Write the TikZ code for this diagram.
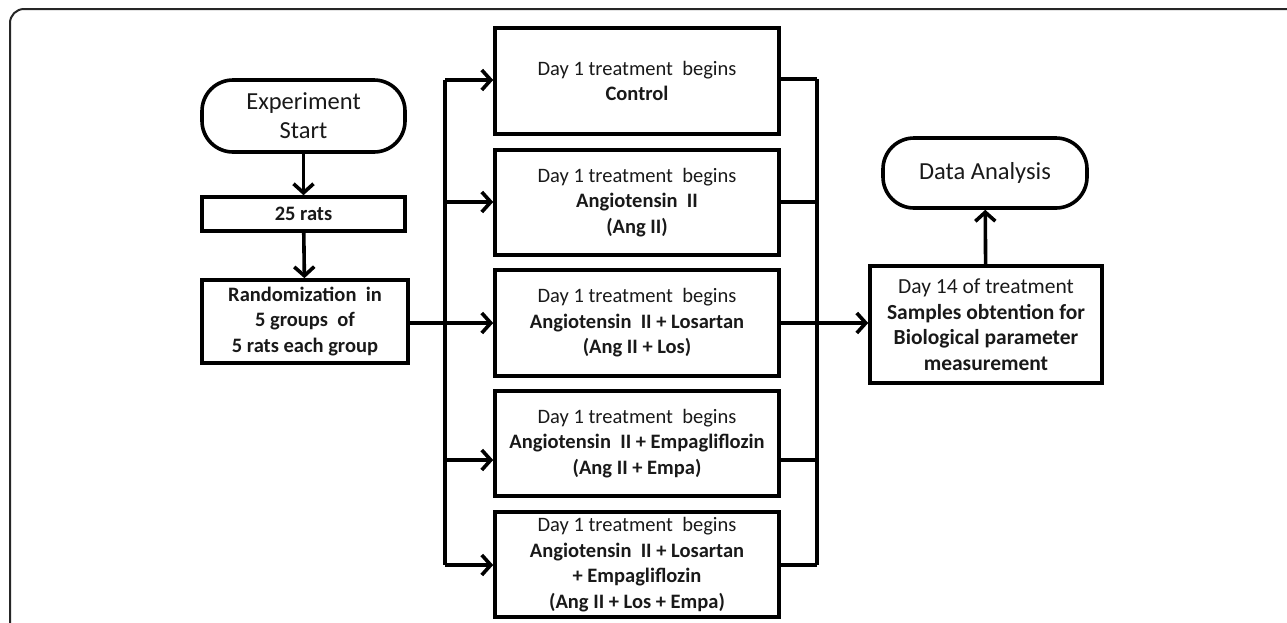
\documentclass[tikz,border=0pt]{standalone}
\usepackage{fontspec}
\setmainfont{Carlito}
\usetikzlibrary{arrows.meta}
\begin{document}
\begin{tikzpicture}[x=1pt,y=-1pt,
  box/.style={draw,line width=3.6pt,align=center,inner sep=0pt,text=black!90,font=\fontsize{20.5}{25.5}\selectfont},
  term/.style={box,rounded corners=31pt,font=\fontsize{24.5}{29}\selectfont},
  ln/.style={line width=3.6pt},
  arr/.style={ln,-{Straight Barb[length=9pt,width=20pt]}}]
\useasboundingbox (0,0) rectangle (1287,622);
\draw[line width=2pt,black!85,rounded corners=14pt] (10,623) -- (10,9) -- (1288,9);
% left column
\node[term,minimum width=203pt,minimum height=72pt] (start) at (303.5,116) {Experiment\\Start};
\node[box,minimum width=203pt,minimum height=34pt] (rats) at (303.5,214) {\textbf{25 rats}};
\node[box,minimum width=206pt,minimum height=83pt] (rand) at (305,321.5) {\textbf{Randomization\ \ in}\\\textbf{5 groups\ \ of}\\\textbf{5 rats each group}};
% treatment boxes
\node[box,minimum width=284pt,minimum height=106pt] (ctl) at (637,81) {Day 1 treatment\ \ begins\\\textbf{Control}};
\node[box,minimum width=284pt,minimum height=105pt] (ang) at (637,202.5) {Day 1 treatment\ \ begins\\\textbf{Angiotensin\ \ II}\\\textbf{(Ang II)}};
\node[box,minimum width=284pt,minimum height=106pt] (los) at (637,323) {Day 1 treatment\ \ begins\\\textbf{Angiotensin\ \ II + Losartan}\\\textbf{(Ang II + Los)}};
\node[box,minimum width=284pt,minimum height=105pt] (emp) at (637,443.5) {Day 1 treatment\ \ begins\\\textbf{Angiotensin\ \ II + Empagliflozin}\\\textbf{(Ang II + Empa)}};
\node[box,minimum width=284pt,minimum height=105pt] (lem) at (637,564.5) {Day 1 treatment\ \ begins\\\textbf{Angiotensin\ \ II + Losartan}\\\textbf{+ Empagliflozin}\\\textbf{(Ang II + Los + Empa)}};
% right column
\node[box,minimum width=232pt,minimum height=117pt,font=\fontsize{21.5}{25.5}\selectfont] (d14) at (986,324.5) {Day 14 of treatment\\\textbf{Samples obtention for}\\\textbf{Biological parameter}\\\textbf{measurement}};
\node[term,minimum width=204pt,minimum height=70pt] (data) at (985,173) {Data Analysis};
% trunks
\coordinate (lt) at (445,80);
\coordinate (lb) at (445,565);
\coordinate (rt) at (817,79);
\coordinate (rb) at (817,565);
% connectors
\draw[arr] (start) -- (rats);
\draw[arr] (rats) -- (rand);
\draw[ln] (lt) -- (lb);
\draw[ln] (rt) -- (rb);
\draw[arr] (lt) -- (lt -| ctl.west);
\draw[arr] (lt |- 0,202) -- (ctl.west |- 0,202);
\draw[arr] (rand.east |- 0,323) -- (los.west |- 0,323);
\draw[arr] (lt |- 0,460) -- (ctl.west |- 0,460);
\draw[arr] (lb) -- (lb -| ctl.west);
\draw[ln] (ctl.east |- rt) -- (rt);
\draw[ln] (ang.east |- 0,202) -- (rt |- 0,202);
\draw[ln] (emp.east |- 0,460) -- (rt |- 0,460);
\draw[ln] (lem.east |- rb) -- (rb);
\draw[arr] (los.east |- 0,323) -- (d14.west |- 0,323);
\draw[arr] (d14) -- (data);
\end{tikzpicture}
\end{document}
